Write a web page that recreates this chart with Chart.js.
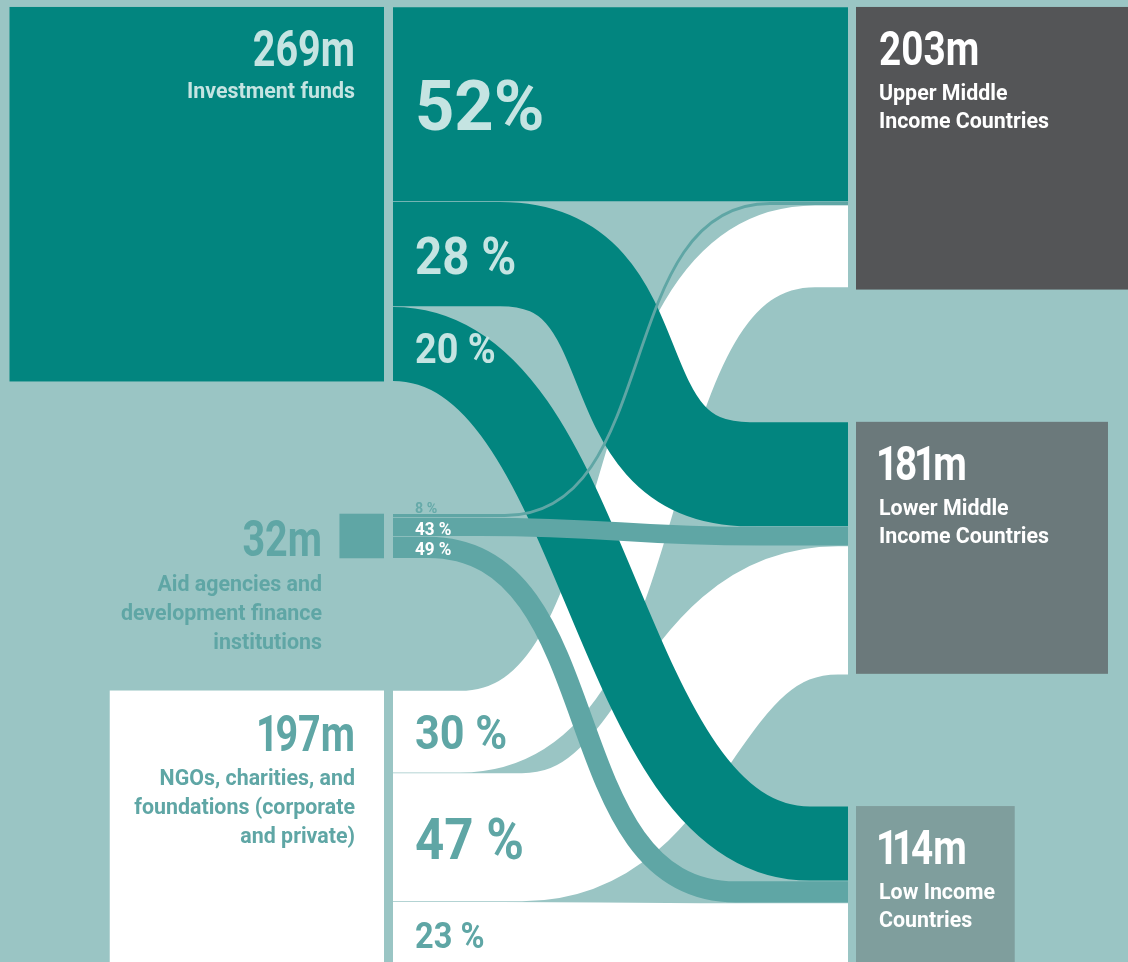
<!DOCTYPE html>
<html>
<head>
<meta charset="utf-8">
<script src="https://cdn.jsdelivr.net/npm/chart.js@4.4.1/dist/chart.umd.min.js"></script>
<style>
  html, body { margin: 0; padding: 0; background: #9ac5c4; }
  #wrap { width: 1128px; height: 962px; }
</style>
</head>
<body>
<div id="wrap"><canvas id="flow" width="1128" height="962"></canvas></div>
<script>
// ---- data (millions of people / shares in %) ----
const sourceNames = ["Investment funds", "Aid agencies and development finance institutions", "NGOs, charities, and foundations (corporate and private)"];
const sourceValues = [269, 32, 197];
const sourceLines = [
  ["Investment funds"],
  ["Aid agencies and", "development finance", "institutions"],
  ["NGOs, charities, and", "foundations (corporate", "and private)"]
];
const targetNames = ["Upper Middle Income Countries", "Lower Middle Income Countries", "Low Income Countries"];
const targetValues = [203, 181, 114];
const targetLines = [
  ["Upper Middle", "Income Countries"],
  ["Lower Middle", "Income Countries"],
  ["Low Income", "Countries"]
];
// share of each source going to [upper middle, lower middle, low]
const investShares = [52, 28, 20];
const aidShares = [8, 43, 49];
const ngoShares = [30, 47, 23];

// ---- layout / style ----
const BG = "#9ac5c4";
const SRC_COLORS = ["#02857f", "#5fa6a5", "#ffffff"];
const TGT_COLORS = ["#545557", "#6b797b", "#7f9e9d"];
const NODE_GAP = 95;            // gap between stacked nodes, in value units
const SRC_RIGHT = 384, FLOW_L = 393, FLOW_R = 848, TGT_L = 856;
// bezier span for every link [xStart, xEnd, handle]
const CURVES = [
  [[500, 700, 0.5], [500, 750, 0.65], [393, 810, 0.5]],
  [[505, 770, 0.6], [480, 760, 0.5], [428, 736, 0.6]],
  [[460, 815, 0.6], [522, 838, 0.5], [500, 700, 0.5]]
];
const DRAW_ORDER = [2, 0, 1];
// percent labels: baseline offset from slot top (px), font size, colour, squeeze
const PCT_X = 415;
const PCT_STYLE = [
  [[123, 70, "#c5e4e2", 0.98, true], [72, 51, "#c5e4e2", 0.93], [56, 42, "#c5e4e2", 0.9]],
  [[-0.5, 15, "#66aaa9", 0.95], [17.5, 18, "#ffffff", 0.95], [18.5, 18, "#ffffff", 0.95]],
  [[58.5, 48, "#5fa6a5", 0.9], [86, 58, "#5fa6a5", 0.88], [46, 37, "#5fa6a5", 0.88]]
];
const SRC_LABEL = [
  { x: 355, num: 59, first: 32, step: 29, color: "#c5e4e2" },
  { x: 322, num: 42, first: 35, step: 29, color: "#5fa6a5" },
  { x: 355, num: 60, first: 34, step: 29, color: "#5fa6a5" }
];
const TGT_LABEL = { dx: 23, num: 58, first: 35, step: 28, color: "#ffffff" };
const NUM_SQUEEZE = 0.79, LABEL_SQUEEZE = 0.95;
const ONE_NARROW = 0.72;        // the source face has a narrow figure one

const shareTable = [investShares, aidShares, ngoShares];

function buildLayout() {
  const srcTop = [], tgtTop = [];
  let acc = 0;
  sourceValues.forEach(v => { srcTop.push(acc); acc += v + NODE_GAP; });
  acc = 0;
  targetValues.forEach(v => { tgtTop.push(acc); acc += v + NODE_GAP; });
  const fill = tgtTop.slice();
  const links = [];
  sourceValues.forEach((sv, s) => {
    let off = srcTop[s];
    shareTable[s].forEach((pct, t) => {
      const v = sv * pct / 100;
      links.push({ s, t, v, pct, y0: off, y1: fill[t] });
      off += v;
      fill[t] += v;
    });
  });
  return { srcTop, tgtTop, links };
}

function text(ctx, str, x, y, size, color, align, squeeze) {
  ctx.save();
  ctx.font = "bold " + size + "px Roboto, 'Liberation Sans', sans-serif";
  ctx.fillStyle = color;
  ctx.textBaseline = "alphabetic";
  ctx.translate(x, y);
  ctx.scale(squeeze, 1);
  if (str.indexOf("1") < 0) {
    ctx.textAlign = align;
    ctx.fillText(str, 0, 0);
  } else {
    // draw glyph by glyph so that "1" takes a narrower slot
    ctx.textAlign = "left";
    const chars = str.split("");
    const full = chars.map(c => ctx.measureText(c).width);
    const adv = chars.map((c, i) => c === "1" ? full[i] * ONE_NARROW : full[i]);
    const total = adv.reduce((a, b) => a + b, 0);
    let cx = align === "right" ? -total : 0;
    chars.forEach((c, i) => {
      ctx.fillText(c, cx + (adv[i] - full[i]) / 2, 0);
      cx += adv[i];
    });
  }
  ctx.restore();
}

const sankeyPlugin = {
  id: "sankeyDraw",
  beforeDatasetsDraw(chart) {
    const ctx = chart.ctx;
    const xs = chart.scales.x, ys = chart.scales.y;
    const X = v => xs.getPixelForValue(v);
    const Y = v => ys.getPixelForValue(v);
    const H = v => Y(v) - Y(0);
    const lay = buildLayout();

    ctx.save();
    ctx.fillStyle = BG;
    ctx.fillRect(0, 0, chart.width, chart.height);

    // source squares, right aligned
    sourceValues.forEach((v, i) => {
      const side = H(v);
      ctx.fillStyle = SRC_COLORS[i];
      ctx.fillRect(X(SRC_RIGHT) - side, Y(lay.srcTop[i]), side, side);
    });
    // target squares, left aligned
    targetValues.forEach((v, i) => {
      const side = H(v);
      ctx.fillStyle = TGT_COLORS[i];
      ctx.fillRect(X(TGT_L), Y(lay.tgtTop[i]), side, side);
    });

    // links
    ctx.lineCap = "butt";
    DRAW_ORDER.forEach(s => {
      lay.links.filter(l => l.s === s).forEach(l => {
        const [c0, c1, a] = CURVES[l.s][l.t];
        const yA = Y(l.y0 + l.v / 2), yB = Y(l.y1 + l.v / 2);
        const x0 = X(c0), x1 = X(c1), span = x1 - x0;
        ctx.beginPath();
        ctx.moveTo(X(FLOW_L), yA);
        ctx.lineTo(x0, yA);
        ctx.bezierCurveTo(x0 + a * span, yA, x1 - a * span, yB, x1, yB);
        ctx.lineTo(X(FLOW_R), yB);
        ctx.strokeStyle = SRC_COLORS[l.s];
        ctx.lineWidth = Math.max(H(l.v) - 0.7, 1.5);
        ctx.stroke();
      });
    });

    // percent labels
    lay.links.forEach(l => {
      const st = PCT_STYLE[l.s][l.t];
      const str = st[4] ? l.pct + "%" : l.pct + " %";
      text(ctx, str, X(PCT_X), Y(l.y0) + st[0], st[1], st[2], "left", st[3]);
    });

    // source labels
    sourceValues.forEach((v, i) => {
      const L = SRC_LABEL[i];
      const top = Y(lay.srcTop[i]);
      text(ctx, v + "m", X(L.x), top + L.num, 50, L.color, "right", NUM_SQUEEZE);
      sourceLines[i].forEach((ln, k) => {
        text(ctx, ln, X(L.x), top + L.num + L.first + k * L.step, 22.5, L.color, "right", LABEL_SQUEEZE);
      });
    });
    // target labels
    targetValues.forEach((v, i) => {
      const top = Y(lay.tgtTop[i]);
      const x = X(TGT_L + TGT_LABEL.dx);
      text(ctx, v + "m", x, top + TGT_LABEL.num, 49, TGT_LABEL.color, "left", NUM_SQUEEZE);
      targetLines[i].forEach((ln, k) => {
        text(ctx, ln, x, top + TGT_LABEL.num + TGT_LABEL.first + k * TGT_LABEL.step, 22.5, TGT_LABEL.color, "left", LABEL_SQUEEZE);
      });
    });
    ctx.restore();
  }
};

new Chart(document.getElementById("flow"), {
  type: "scatter",
  data: { datasets: [{ data: [], showLine: false }] },
  options: {
    responsive: false,
    animation: false,
    devicePixelRatio: 1,
    layout: { padding: 0 },
    plugins: { legend: { display: false }, tooltip: { enabled: false } },
    scales: {
      x: { type: "linear", min: 0, max: 1128, display: false },
      y: { type: "linear", min: -5, max: 686, reverse: true, display: false }
    }
  },
  plugins: [sankeyPlugin]
});
</script>
</body>
</html>
